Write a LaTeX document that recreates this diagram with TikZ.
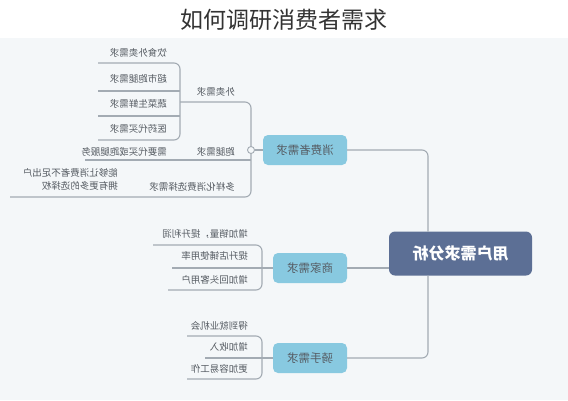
\documentclass[tikz,border=0pt]{standalone}
\usepackage{fontspec}
\usepackage{graphicx}
\newfontfamily\cjk{Noto Sans CJK SC}
\definecolor{bg}{HTML}{F4F7F9}
\definecolor{lin}{HTML}{A3ABB3}
\definecolor{brfill}{HTML}{88C9E0}
\definecolor{rootfill}{HTML}{5C6F95}
\definecolor{txt}{HTML}{555B62}
\definecolor{titlec}{HTML}{333333}
\newcommand{\mir}[1]{\reflectbox{#1}}
\tikzset{
  conn/.style={draw=lin, line width=1.1pt},
  leaf/.style={anchor=east, inner sep=0pt, font=\cjk\fontsize{9.5}{12}\selectfont, text=txt},
  branch/.style={rounded corners=5pt, fill=brfill, inner sep=0pt, minimum height=30pt,
    font=\cjk\fontsize{11.5}{13}\selectfont, text=txt},
  rootbox/.style={rounded corners=6pt, fill=rootfill, inner sep=0pt, minimum width=143pt,
    minimum height=44pt, font=\cjk\bfseries\fontsize{16}{18}\selectfont, text=white}
}
\begin{document}
\begin{tikzpicture}[x=1pt,y=-1pt]
\useasboundingbox (0,0) rectangle (568,400);
\fill[bg] (0,38) rectangle (568,400);
\node[font=\cjk\fontsize{23}{26}\selectfont, text=titlec] (title) at (284,20) {如何调研消费者需求};

% root and branches
\node[rootbox] (root) at (460.5,253.5) {\mir{用户需求分析}};
\node[branch, minimum width=84pt] (cons) at (305,150) {\mir{消费者需求}};
\node[branch, minimum width=74pt] (biz) at (310,268) {\mir{商家需求}};
\node[branch, minimum width=74pt] (rider) at (310,358) {\mir{骑手需求}};

\coordinate (rtop) at (428,231.5);
\coordinate (rbot) at (428,275.5);
\draw[conn, rounded corners=6pt] (cons.east) -| (rtop);
\draw[conn, rounded corners=6pt] (rider.east) -| (rbot);
\draw[conn] (biz.east) -- (biz.east -| root.west);

% consumer sub-tree
\coordinate (cv) at (251,150);
\coordinate (wmR) at (180,102);
\coordinate (cBot) at (10,197);
\coordinate (ptL) at (85,160);
\coordinate (ptR) at (251,160);
\draw[conn, rounded corners=6pt] (wmR) -- (251,102) -- (251,197) -- (cBot);
\draw[conn] (ptL) -- (ptR);
\node[circle, draw=lin, fill=bg, line width=0.9pt, inner sep=0pt, minimum size=7pt] (cdot) at (cv) {};
\draw[conn] (cons.west) -- (cdot);

\node[leaf] (wm) at (235,92) {\mir{外卖需求}};
\node[leaf] (pt) at (235,152) {\mir{跑腿需求}};
\node[leaf] (dy) at (235,187) {\mir{多样化消费选择需求}};
\node[leaf] (ptc) at (167,152) {\mir{需要代买或跑腿服务}};
\node[leaf, font=\cjk\fontsize{9.5}{13}\selectfont] (dyc) at (118,180.5) {\mir{\begin{tabular}{@{}l@{}}能够让消费者不足出户\\拥有更多的选择权\end{tabular}}};

% takeaway children
\coordinate (w1) at (98,63);
\coordinate (w4) at (98,140);
\coordinate (w2L) at (98,91);
\coordinate (w2R) at (180,91);
\coordinate (w3L) at (98,116);
\coordinate (w3R) at (180,116);
\draw[conn, rounded corners=6pt] (w1) -- (180,63) -- (180,140) -- (w4);
\draw[conn] (w2L) -- (w2R);
\draw[conn] (w3L) -- (w3R);
\node[leaf] (wa) at (167,53) {\mir{饮食外卖需求}};
\node[leaf] (wb) at (167,79) {\mir{超市跑腿需求}};
\node[leaf] (wc) at (167,104) {\mir{蔬菜生鲜需求}};
\node[leaf] (wd) at (167,129) {\mir{医药代买需求}};

% merchant children
\coordinate (b1) at (153,245);
\coordinate (b3) at (168,290);
\coordinate (b2L) at (172,268);
\draw[conn, rounded corners=6pt] (b1) -- (262,245) -- (262,290) -- (b3);
\draw[conn] (b2L) -- (biz.west);
\node[leaf] (ba) at (248,234) {\mir{增加销量，提升利润}};
\node[leaf] (bb) at (248,256) {\mir{提升店铺使用率}};
\node[leaf] (bc) at (248,280) {\mir{增加回头客用户}};

% rider children
\coordinate (r1) at (187,336);
\coordinate (r3) at (187,379);
\coordinate (r2L) at (205,358);
\draw[conn, rounded corners=6pt] (r1) -- (262,336) -- (262,379) -- (r3);
\draw[conn] (r2L) -- (rider.west);
\node[leaf] (ra) at (248,326) {\mir{得到就业机会}};
\node[leaf] (rb) at (248,347) {\mir{增加收入}};
\node[leaf] (rc) at (248,369) {\mir{更加容易工作}};
\end{tikzpicture}
\end{document}
